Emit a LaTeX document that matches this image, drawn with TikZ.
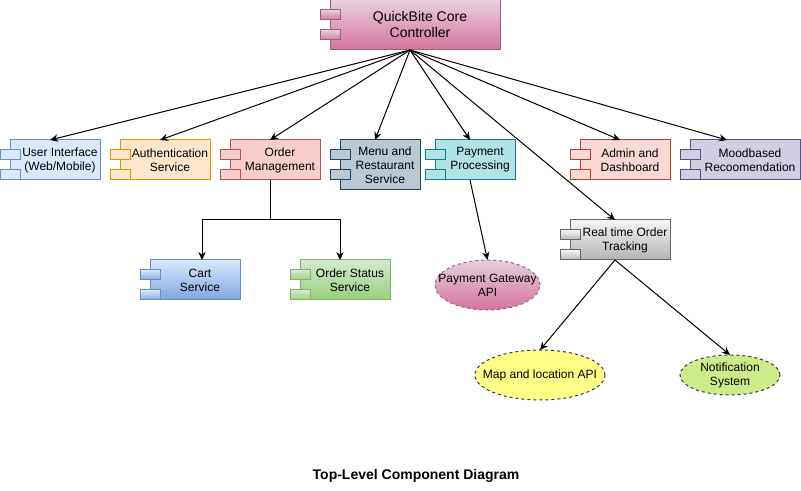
\documentclass[tikz,border=0pt]{standalone}
\usepackage{fontspec}
\setmainfont{Liberation Sans}
\usetikzlibrary{arrows.meta, calc}
\definecolor{uiFill}{HTML}{DAE8FC}
\definecolor{uiLine}{HTML}{6C8EBF}
\definecolor{authFill}{HTML}{FFE6CC}
\definecolor{authLine}{HTML}{D79B00}
\definecolor{ordFill}{HTML}{F8CECC}
\definecolor{ordLine}{HTML}{B85450}
\definecolor{menuFill}{HTML}{BAC8D3}
\definecolor{menuLine}{HTML}{23445D}
\definecolor{payFill}{HTML}{B0E3E6}
\definecolor{payLine}{HTML}{0E8088}
\definecolor{admFill}{HTML}{FAD9D5}
\definecolor{admLine}{HTML}{AE4132}
\definecolor{moodFill}{HTML}{D0CEE2}
\definecolor{moodLine}{HTML}{56517E}
\definecolor{pinkTop}{HTML}{E6D0DE}
\definecolor{pinkBot}{HTML}{D5739D}
\definecolor{pinkLine}{HTML}{996185}
\definecolor{cartBot}{HTML}{7EA6E0}
\definecolor{stTop}{HTML}{D5E8D4}
\definecolor{stBot}{HTML}{97D077}
\definecolor{stLine}{HTML}{82B366}
\definecolor{grayTop}{HTML}{F5F5F5}
\definecolor{grayBot}{HTML}{B3B3B3}
\definecolor{grayLine}{HTML}{666666}
\definecolor{mapFill}{HTML}{FFFF88}
\definecolor{notFill}{HTML}{CDEB8B}
\definecolor{apiLine}{HTML}{36393D}

\begin{document}
\begin{tikzpicture}[
    x=0.75pt, y=-0.75pt,
    comp/.style={rectangle, inner sep=1pt, outer sep=0pt, align=center,
      font=\fontsize{9}{10.5}\selectfont,
      append after command={\pgfextra{
        \draw[line width=0.75pt, #1] ([xshift=-7.5pt]\tikzlastnode.north west) rectangle (\tikzlastnode.south east);
        \draw[line width=0.75pt, #1] ([shift={(-15pt,-7.5pt)}]\tikzlastnode.north west) rectangle ++(20,10);
        \draw[line width=0.75pt, #1] ([shift={(-15pt,-22.5pt)}]\tikzlastnode.north west) rectangle ++(20,10);
      }}},
    api/.style={rectangle, inner sep=0pt, outer sep=0pt, align=center,
      font=\fontsize{9}{10.5}\selectfont,
      append after command={\pgfextra{
        \draw[line width=0.75pt, draw=apiLine, dash pattern=on 2.25pt off 2.25pt, #1]
          let \p1=(\tikzlastnode.north east), \p2=(\tikzlastnode.center) in
          (\p2) ellipse [x radius=\x1-\x2, y radius=\y1-\y2];
      }}},
    arr/.style={-{Stealth[length=6pt, width=5.5pt]}, line width=0.75pt}
  ]
    \useasboundingbox (0,0) rectangle (801,491);

    % top controller
    \node[comp={draw=pinkLine, top color=pinkTop, bottom color=pinkBot}, font=\fontsize{10.5}{12}\selectfont,
      minimum width=120pt, minimum height=37.5pt] (core) at (420,25) {QuickBite Core\\Controller};

    % first row
    \node[comp={draw=uiLine, fill=uiFill}, minimum width=60pt, minimum height=30pt] (ui) at (60,160) {User Interface\\(Web/Mobile)};
    \node[comp={draw=authLine, fill=authFill}, minimum width=60pt, minimum height=30pt] (auth) at (170,160) {Authentication\\Service};
    \node[comp={draw=ordLine, fill=ordFill}, minimum width=60pt, minimum height=30pt] (order) at (280,160) {Order\\Management};
    \node[comp={draw=menuLine, fill=menuFill}, minimum width=52.5pt, minimum height=37.5pt] (menu) at (385,165) {Menu and\\Restaurant\\Service};
    \node[comp={draw=payLine, fill=payFill}, minimum width=52.5pt, minimum height=30pt] (pay) at (480,160) {Payment\\Processing};
    \node[comp={draw=admLine, fill=admFill}, minimum width=60pt, minimum height=30pt] (admin) at (630,160) {Admin and\\Dashboard};
    \node[comp={draw=moodLine, fill=moodFill}, minimum width=75pt, minimum height=30pt] (mood) at (750,160) {Moodbased\\Recoomendation};

    % second level
    \node[comp={draw=uiLine, top color=uiFill, bottom color=cartBot}, minimum width=60pt, minimum height=30pt] (cart) at (200,280) {Cart\\Service};
    \node[comp={draw=stLine, top color=stTop, bottom color=stBot}, minimum width=60pt, minimum height=30pt] (status) at (350,280) {Order Status\\Service};
    \node[comp={draw=grayLine, top color=grayTop, bottom color=grayBot}, minimum width=67.5pt, minimum height=30pt] (track) at (625,240) {Real time Order\\Tracking};

    % external apis
    \node[api={draw=pinkLine, top color=pinkTop, bottom color=pinkBot}, minimum width=78.75pt, minimum height=37.5pt] (gateway) at (487.5,285) {Payment Gateway\\API};
    \node[api={fill=mapFill}, minimum width=97.5pt, minimum height=37.5pt] (map) at (540,375) {Map and location API};
    \node[api={fill=notFill}, minimum width=75pt, minimum height=30pt] (notif) at (730,375) {Notification\\System};

    \node[font=\bfseries\fontsize{10.5}{12}\selectfont] (title) at (416,476) {Top-Level Component Diagram};

    \coordinate (hub) at ([xshift=-7.5pt]core.south);
    \draw[arr] (hub) -- ([xshift=-7.5pt]ui.north);
    \draw[arr] (hub) -- ([xshift=-7.5pt]auth.north);
    \draw[arr] (hub) -- ([xshift=-7.5pt]order.north);
    \draw[arr] (hub) -- ([xshift=-7.5pt]menu.north);
    \draw[arr] (hub) -- ([xshift=-7.5pt]pay.north);
    \draw[arr] (hub) -- ([xshift=-7.5pt]track.north);
    \draw[arr] (hub) -- ([xshift=-7.5pt]admin.north);
    \draw[arr] (hub) -- ([xshift=-17.25pt]mood.north);
    \draw[arr] ([xshift=-7.5pt]order.south) -- ++(0,40) -| ([xshift=1.5pt]cart.north);
    \draw[arr] ([xshift=-7.5pt]order.south) -- ++(0,40) -| ([xshift=-7.5pt]status.north);
    \draw[arr] ([xshift=-7.5pt]pay.south) -- (gateway.north);
    \draw[arr] ([xshift=-7.5pt]track.south) -- (map.north);
    \draw[arr] ([xshift=-7.5pt]track.south) -- (notif.north);
  \end{tikzpicture}
\end{document}
